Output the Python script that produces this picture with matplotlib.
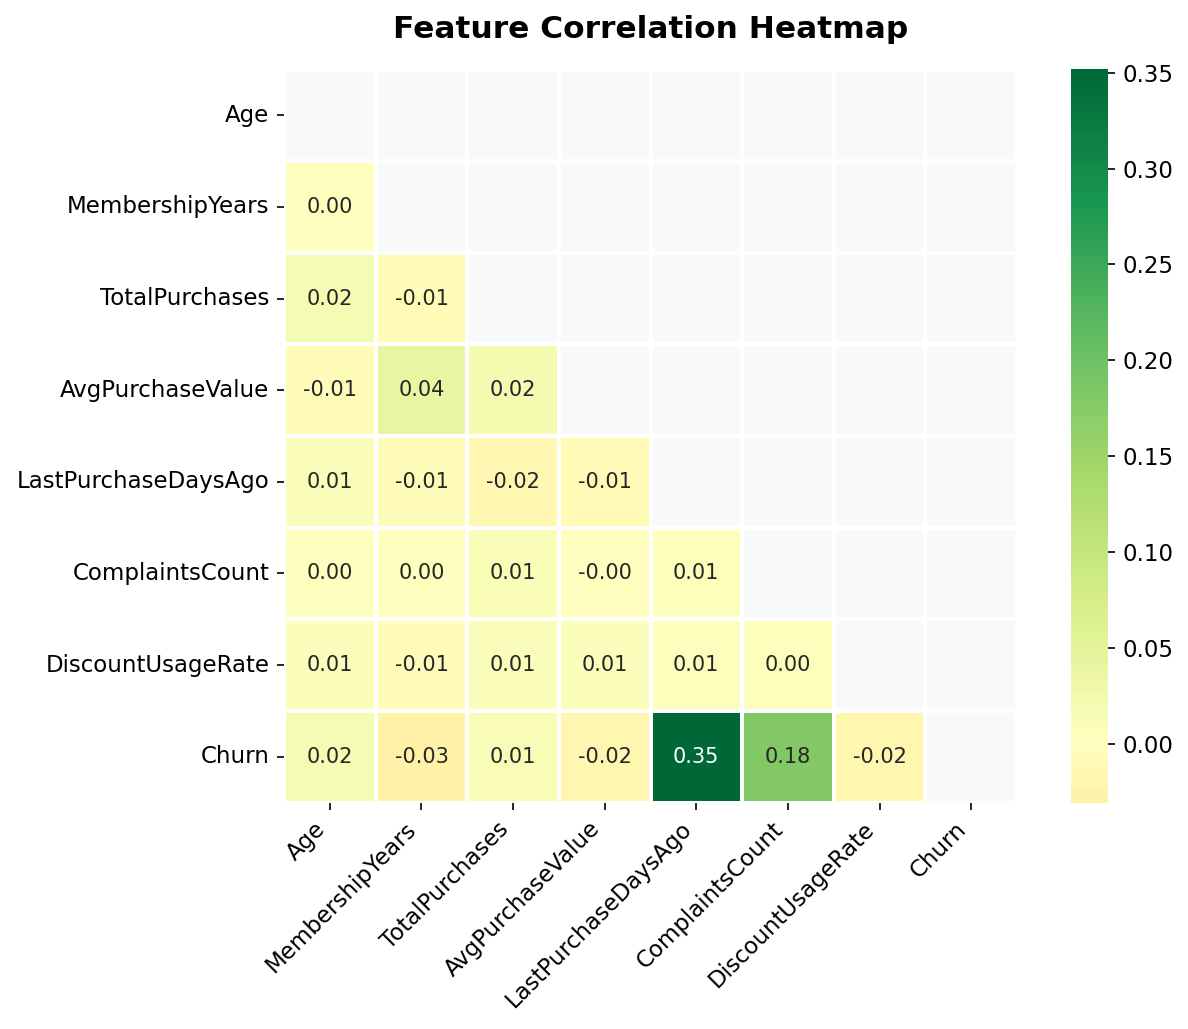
import numpy as np
import matplotlib
matplotlib.use("Agg")
import matplotlib.pyplot as plt
import seaborn as sns

features = ["Age", "MembershipYears", "TotalPurchases", "AvgPurchaseValue",
            "LastPurchaseDaysAgo", "ComplaintsCount", "DiscountUsageRate", "Churn"]

# lower-triangle correlations, row by row (row i has i values)
row_membership = [0.001]
row_totalpurch = [0.018, -0.008]
row_avgvalue = [-0.007, 0.041, 0.021]
row_lastdays = [0.008, -0.009, -0.017, -0.011]
row_complaints = [0.002, 0.003, 0.010, -0.002, 0.006]
row_discount = [0.007, -0.006, 0.009, 0.008, 0.006, 0.004]
row_churn = [0.018, -0.031, 0.013, -0.020, 0.352, 0.181, -0.021]

rows = [[], row_membership, row_totalpurch, row_avgvalue, row_lastdays,
        row_complaints, row_discount, row_churn]

cbar_ticks = [0.0, 0.05, 0.10, 0.15, 0.20, 0.25, 0.30, 0.35]

n = len(features)
corr = np.eye(n)
for i, r in enumerate(rows):
    for j, v in enumerate(r):
        corr[i, j] = v
        corr[j, i] = v

mask = np.triu(np.ones_like(corr, dtype=bool))

W, H = 1188, 1029
fig = plt.figure(figsize=(W / 150, H / 150), dpi=150)
ax = fig.add_axes([284 / W, 1 - 803 / H, 733 / W, 734 / H])
cax = fig.add_axes([1071 / W, 1 - 803 / H, 37 / W, 734 / H])
ax.set_facecolor("#f8f9fa")

sns.heatmap(corr, mask=mask, cmap="RdYlGn", center=0, annot=True, fmt=".2f",
            linewidths=1, linecolor="white", square=True, ax=ax, cbar_ax=cax,
            annot_kws={"size": 10},
            xticklabels=features, yticklabels=features)

ax.set_position([284 / W, 1 - 803 / H, 733 / W, 734 / H])
ax.set_xticklabels(features, rotation=45, ha="right", fontsize=11)
ax.set_yticklabels(features, rotation=0, fontsize=11)
ax.set_title("Feature Correlation Heatmap", fontsize=15, fontweight="bold", pad=15)

cax.set_yticks(cbar_ticks)
cax.set_yticklabels([f"{t:.2f}" for t in cbar_ticks])
cax.tick_params(labelsize=11)

fig.savefig("out.png", dpi=150)
